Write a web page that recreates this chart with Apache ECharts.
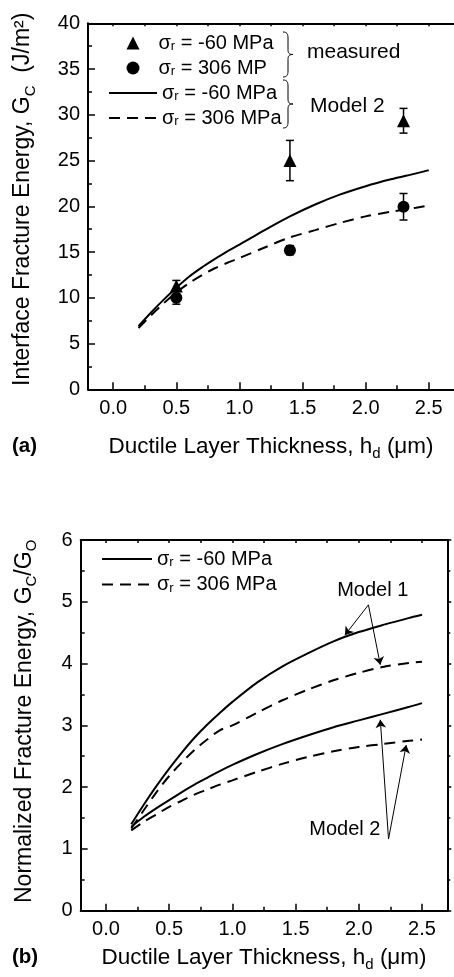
<!DOCTYPE html>
<html><head><meta charset="utf-8">
<script src="https://cdn.jsdelivr.net/npm/echarts@6/dist/echarts.min.js"></script>
<style>html,body{margin:0;padding:0;background:#fff}#c{width:454px;height:977px}</style>
</head><body><div id="c"></div>
<script>
const FONT = '"Liberation Sans", Arial, Helvetica, sans-serif';

// ---------- Panel (a): measured G_C and Model 2 ----------
const measX = [0.5, 1.4, 2.3];
const measNeg60 = [11.3, 25.0, 29.35];
const errNeg60 = [0.6, 2.2, 1.35];
const meas306 = [10.0, 15.2, 19.95];
const err306 = [0.7, 0.5, 1.45];

const modelX = [0.2, 0.3, 0.4, 0.5, 0.6, 0.7, 0.8, 0.9, 1.0, 1.2, 1.4, 1.6, 1.8, 2.0, 2.2, 2.4, 2.5];
const model2Neg60 = [6.9, 8.4, 9.8, 11.1, 12.3, 13.3, 14.2, 15.05, 15.8, 17.4, 18.9, 20.2, 21.3, 22.2, 22.95, 23.6, 23.95];
const model2Pos306 = [6.7, 8.1, 9.4, 10.6, 11.6, 12.45, 13.2, 13.8, 14.35, 15.5, 16.6, 17.4, 18.2, 18.9, 19.4, 19.85, 20.1];

// ---------- Panel (b): normalized G_C/G_O ----------
const normX = [0.2, 0.3, 0.4, 0.5, 0.6, 0.7, 0.8, 0.9, 1.0, 1.2, 1.4, 1.6, 1.8, 2.0, 2.2, 2.4, 2.5];
const norm1Neg60 = [1.4, 1.72, 2.02, 2.3, 2.56, 2.8, 3.01, 3.2, 3.38, 3.7, 3.96, 4.17, 4.36, 4.51, 4.63, 4.74, 4.79];
const norm1Pos306 = [1.33, 1.63, 1.92, 2.18, 2.4, 2.6, 2.77, 2.92, 3.0, 3.21, 3.41, 3.58, 3.73, 3.85, 3.95, 4.01, 4.03];
const norm2Neg60 = [1.36, 1.52, 1.66, 1.79, 1.92, 2.04, 2.15, 2.26, 2.36, 2.54, 2.7, 2.84, 2.97, 3.08, 3.19, 3.3, 3.36];
const norm2Pos306 = [1.3, 1.44, 1.56, 1.68, 1.78, 1.88, 1.96, 2.04, 2.11, 2.25, 2.38, 2.49, 2.58, 2.65, 2.7, 2.75, 2.77];

// ---------- Axes ticks ----------
const xMajor = [0, 0.5, 1, 1.5, 2, 2.5];
const xMinor = [0.25, 0.75, 1.25, 1.75, 2.25];
const xAll = [0, 0.25, 0.5, 0.75, 1, 1.25, 1.5, 1.75, 2, 2.25, 2.5];
const xRange = [-0.2, 2.7];
const yRangeA = [0, 40], yStepA = 5;
const yRangeB = [0, 6], yStepB = 1;

// annotations (panel b), in data units
const model1Label = [2.11, 5.19];
const model2Label = [1.89, 1.31];
const model1Arrows = [[[2.076, 4.95], [1.89, 4.46]], [[2.076, 4.95], [2.17, 3.98]]];
const model2Arrows = [[[2.235, 1.16], [2.17, 3.09]], [[2.235, 1.16], [2.375, 2.68]]];

const legendText = {
  'a-meas-60': '{s|σ}{sub|r}{s| = -60 MPa}',
  'a-meas306': '{s|σ}{sub|r}{s| = 306 MP}',
  'a-mod-60': '{s|σ}{sub|r}{s| = -60 MPa}',
  'a-mod306': '{s|σ}{sub|r}{s| = 306 MPa}',
  'b-60': '{s|σ}{sub|r}{s| = -60 MPa}',
  'b306': '{s|σ}{sub|r}{s| = 306 MPa}'
};

const BLACK = '#000';
const DASH = [11, 7];
const legRich = {
  s: {fontFamily: FONT, fontSize: 20, color: BLACK, lineHeight: 20},
  sub: {fontFamily: FONT, fontSize: 13, color: BLACK, lineHeight: 13, verticalAlign: 'bottom'}
};
const nameRich = (fs) => ({
  sub: {fontFamily: FONT, fontSize: Math.round(fs * 0.65), color: BLACK, lineHeight: Math.round(fs * 0.65), verticalAlign: 'bottom'}
});

function pairs(xs, ys) { return xs.map((x, i) => [x, ys[i]]); }

function errSeries(name, xs, ys, es, xi, yi) {
  return {
    type: 'custom', name: name, xAxisIndex: xi, yAxisIndex: yi, z: 3,
    data: xs.map((x, i) => [x, ys[i] - es[i], ys[i] + es[i]]),
    renderItem: function (params, api) {
      const lo = api.coord([api.value(0), api.value(1)]);
      const hi = api.coord([api.value(0), api.value(2)]);
      const w = 4;
      const st = {stroke: BLACK, lineWidth: 1.5};
      return {type: 'group', children: [
        {type: 'line', shape: {x1: lo[0], y1: lo[1], x2: hi[0], y2: hi[1]}, style: st},
        {type: 'line', shape: {x1: lo[0] - w, y1: lo[1], x2: lo[0] + w, y2: lo[1]}, style: st},
        {type: 'line', shape: {x1: hi[0] - w, y1: hi[1], x2: hi[0] + w, y2: hi[1]}, style: st}
      ]};
    }
  };
}

function lineSeries(name, xs, ys, dashed, xi, yi, extra) {
  return Object.assign({
    type: 'line', name: name, xAxisIndex: xi, yAxisIndex: yi, data: pairs(xs, ys),
    smooth: 0.3, symbol: 'none', showSymbol: false, z: 2,
    lineStyle: {color: BLACK, width: 2, type: dashed ? DASH : 'solid'},
    itemStyle: {color: BLACK}
  }, extra || {});
}

function xAxesFor(gridIndex, nameText, nameGap) {
  const base = {type: 'value', gridIndex: gridIndex, min: xRange[0], max: xRange[1], splitLine: {show: false}};
  return [
    Object.assign({}, base, {
      position: 'bottom',
      axisLine: {show: true, onZero: false, lineStyle: {color: BLACK, width: 2}},
      axisTick: {show: true, inside: true, length: 7, customValues: xMajor, lineStyle: {color: BLACK, width: 1.5}},
      axisLabel: {show: true, customValues: xMajor, margin: 9, color: BLACK, fontFamily: FONT, fontSize: 20,
        formatter: v => v.toFixed(1)},
      name: nameText, nameLocation: 'middle', nameGap: nameGap,
      nameTextStyle: {fontFamily: FONT, fontSize: 22.5, color: BLACK, lineHeight: 30, rich: nameRich(22.5)}
    }),
    Object.assign({}, base, {
      position: 'bottom',
      axisLine: {show: false, onZero: false},
      axisTick: {show: true, inside: true, length: 4, customValues: xMinor, lineStyle: {color: BLACK, width: 1.5}},
      axisLabel: {show: false}
    }),
    Object.assign({}, base, {
      position: 'top',
      axisLine: {show: true, onZero: false, lineStyle: {color: BLACK, width: 2}},
      axisTick: {show: true, inside: true, length: 3, customValues: xAll, lineStyle: {color: BLACK, width: 1.5}},
      axisLabel: {show: false}
    })
  ];
}

// curly brace "}" made of bezier pieces (legend decoration)
function brace(x, yTop, yBot, w) {
  const xm = x + w / 2, xt = x + w, ym = (yTop + yBot) / 2;
  const st = {stroke: BLACK, lineWidth: 1, fill: null};
  const bz = (x1, y1, cpx1, cpy1, cpx2, cpy2, x2, y2) =>
    ({type: 'bezierCurve', shape: {x1, y1, cpx1, cpy1, cpx2, cpy2, x2, y2}, style: st});
  const ln = (x1, y1, x2, y2) => ({type: 'line', shape: {x1, y1, x2, y2}, style: st});
  return [
    bz(x, yTop, xm - 1, yTop, xm, yTop + 2, xm, yTop + 6),
    ln(xm, yTop + 6, xm, ym - 5),
    bz(xm, ym - 5, xm, ym - 1.5, xm + 1, ym, xt, ym),
    bz(xt, ym, xm + 1, ym, xm, ym + 1.5, xm, ym + 5),
    ln(xm, ym + 5, xm, yBot - 6),
    bz(xm, yBot - 6, xm, yBot - 2, xm - 1, yBot, x, yBot)
  ];
}

const legText = {fontFamily: FONT, fontSize: 20, color: BLACK, rich: legRich};
const hideSym = {opacity: 0, color: 'rgba(0,0,0,0)', borderWidth: 0};

const chart = echarts.init(document.getElementById('c'), null, {renderer: 'canvas'});

const option = {
  animation: false,
  backgroundColor: '#fff',
  textStyle: {fontFamily: FONT},
  grid: [
    {left: 87, top: 23.3, width: 368, height: 366},
    {left: 80.7, top: 540, width: 366.6, height: 370.7}
  ],
  xAxis: [].concat(
    xAxesFor(0, 'Ductile Layer Thickness, h{sub|d} (μm)', 42),
    xAxesFor(1, 'Ductile Layer Thickness, h{sub|d} (μm)', 32)
  ),
  yAxis: [
    {
      type: 'value', gridIndex: 0, min: yRangeA[0], max: yRangeA[1], interval: yStepA, position: 'left',
      splitLine: {show: false},
      axisLine: {show: true, onZero: false, lineStyle: {color: BLACK, width: 2}},
      axisTick: {show: true, inside: true, length: 7, lineStyle: {color: BLACK, width: 1.5}},
      minorTick: {show: true, splitNumber: 2, length: 4, lineStyle: {color: BLACK, width: 1.5}},
      axisLabel: {color: BLACK, fontFamily: FONT, fontSize: 20, margin: 8},
      name: 'Interface Fracture Energy, G{sub|C}  (J/m²)', nameLocation: 'middle', nameGap: 50,
      nameTextStyle: {fontFamily: FONT, fontSize: 23, color: BLACK, lineHeight: 30, padding: [0, 0, 0, 14], rich: nameRich(23)}
    },
    {
      type: 'value', gridIndex: 1, min: yRangeB[0], max: yRangeB[1], interval: yStepB, position: 'left',
      splitLine: {show: false},
      axisLine: {show: true, onZero: false, lineStyle: {color: BLACK, width: 2}},
      axisTick: {show: true, inside: true, length: 7, lineStyle: {color: BLACK, width: 1.5}},
      minorTick: {show: true, splitNumber: 2, length: 4, lineStyle: {color: BLACK, width: 1.5}},
      axisLabel: {color: BLACK, fontFamily: FONT, fontSize: 20, margin: 8},
      name: 'Normalized Fracture Energy, G{sub|C}/G{sub|O}', nameLocation: 'middle', nameGap: 41,
      nameTextStyle: {fontFamily: FONT, fontSize: 23, color: BLACK, lineHeight: 30, padding: [0, 0, 0, 8], rich: nameRich(23)}
    },
    {
      type: 'value', gridIndex: 1, min: yRangeB[0], max: yRangeB[1], interval: yStepB, position: 'right',
      splitLine: {show: false},
      axisLine: {show: true, onZero: false, lineStyle: {color: BLACK, width: 2}},
      axisTick: {show: true, inside: false, length: 4, lineStyle: {color: BLACK, width: 1.5}},
      minorTick: {show: true, splitNumber: 2, length: 3, lineStyle: {color: BLACK, width: 1.5}},
      axisLabel: {show: false}
    }
  ],
  legend: [
    {
      data: [{name: 'a-meas-60', icon: 'triangle'}, {name: 'a-meas306', icon: 'circle'}],
      orient: 'vertical', left: 121.5, top: 28, itemWidth: 13, itemHeight: 13, itemGap: 5,
      selectedMode: false, formatter: n => legendText[n],
      textStyle: Object.assign({padding: [0, 0, 0, 14]}, legText)
    },
    {
      data: [{name: 'a-mod-60', itemStyle: hideSym}, {name: 'a-mod306', itemStyle: hideSym}],
      orient: 'vertical', left: 103, top: 78, itemWidth: 48, itemHeight: 13, itemGap: 5,
      selectedMode: false, formatter: n => legendText[n],
      textStyle: legText
    },
    {
      data: [{name: 'b-60', itemStyle: hideSym}, {name: 'b306', itemStyle: hideSym}],
      orient: 'vertical', left: 96, top: 544, itemWidth: 50, itemHeight: 13, itemGap: 5.6,
      selectedMode: false, formatter: n => legendText[n],
      textStyle: legText
    }
  ],
  graphic: [].concat(
    brace(283, 32, 77, 10),
    brace(283, 80, 128, 10),
    [
      {type: 'text', left: 307, top: 42, style: {text: 'measured', fontFamily: FONT, fontSize: 21, fill: BLACK}},
      {type: 'text', left: 310, top: 96, style: {text: 'Model 2', fontFamily: FONT, fontSize: 21, fill: BLACK}},
      {type: 'text', left: 12, top: 436, style: {text: '(a)', fontFamily: FONT, fontSize: 20.5, fontWeight: 'bold', fill: BLACK}},
      {type: 'text', left: 12, top: 947, style: {text: '(b)', fontFamily: FONT, fontSize: 20.5, fontWeight: 'bold', fill: BLACK}}
    ]
  ),
  series: [
    lineSeries('a-mod-60', modelX, model2Neg60, false, 0, 0),
    lineSeries('a-mod306', modelX, model2Pos306, true, 0, 0),
    errSeries('err-60', measX, measNeg60, errNeg60, 0, 0),
    errSeries('err306', measX, meas306, err306, 0, 0),
    {type: 'scatter', name: 'a-meas-60', xAxisIndex: 0, yAxisIndex: 0, symbol: 'triangle', symbolSize: 13, z: 4,
      itemStyle: {color: BLACK, opacity: 1}, data: pairs(measX, measNeg60)},
    {type: 'scatter', name: 'a-meas306', xAxisIndex: 0, yAxisIndex: 0, symbol: 'circle', symbolSize: 12, z: 4,
      itemStyle: {color: BLACK, opacity: 1}, data: pairs(measX, meas306)},

    lineSeries('b-60', normX, norm1Neg60, false, 3, 1),
    lineSeries('b306', normX, norm1Pos306, true, 3, 1),
    lineSeries('b2-60', normX, norm2Neg60, false, 3, 1),
    lineSeries('b2-306', normX, norm2Pos306, true, 3, 1, {
      markLine: {
        silent: true, symbol: ['none', 'arrow'], symbolSize: 8, animation: false,
        lineStyle: {color: BLACK, width: 1, type: 'solid'}, label: {show: false},
        data: model1Arrows.concat(model2Arrows).map(a => [{coord: a[0]}, {coord: a[1]}])
      },
      markPoint: {
        silent: true, symbol: 'circle', symbolSize: 0, animation: false,
        label: {show: true, position: 'inside', color: BLACK, fontFamily: FONT, fontSize: 20},
        data: [
          {coord: model1Label, label: {formatter: 'Model 1'}},
          {coord: model2Label, label: {formatter: 'Model 2'}}
        ]
      }
    })
  ]
};
chart.setOption(option);
</script></body></html>
